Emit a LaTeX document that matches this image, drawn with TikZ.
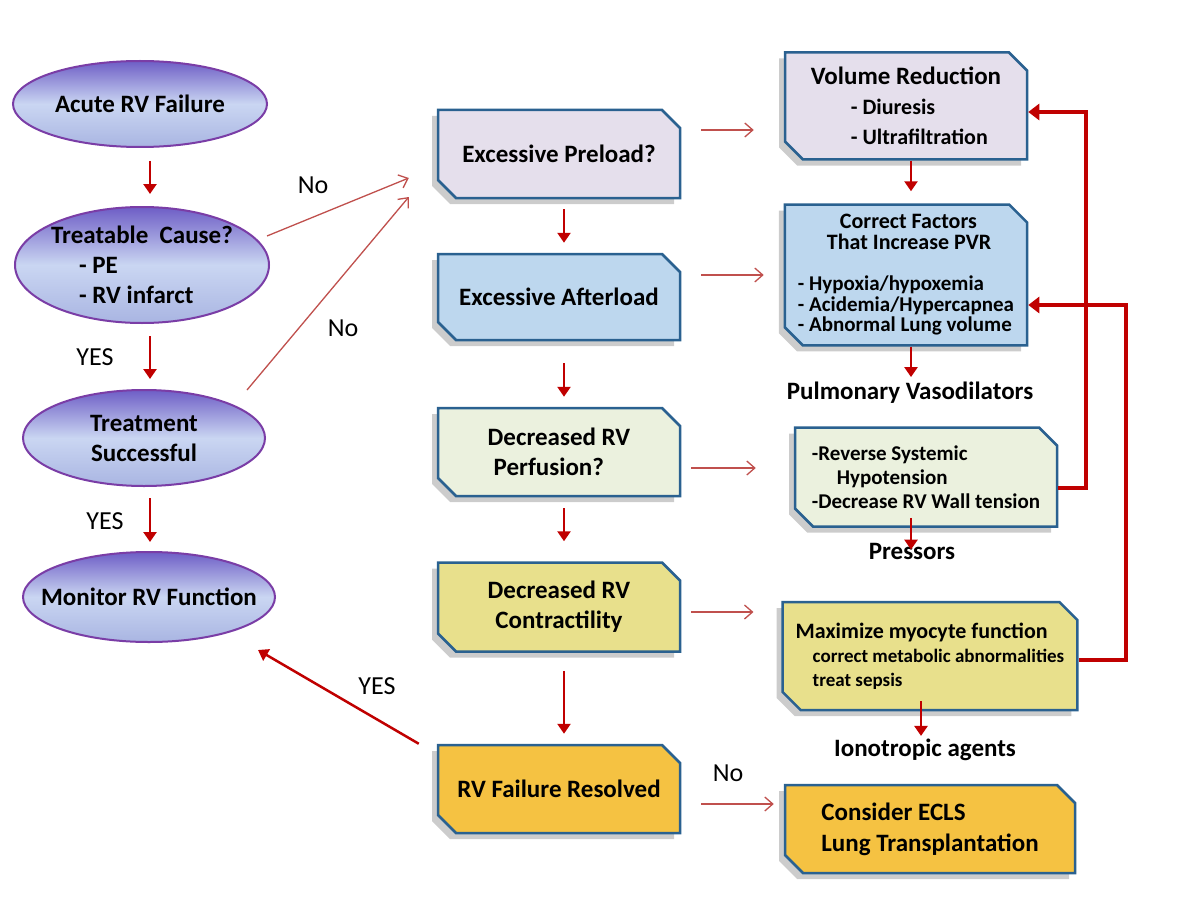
\documentclass[tikz,border=0pt]{standalone}
\usepackage{fontspec}
\setmainfont{Carlito}
\usetikzlibrary{shapes.geometric,shapes.misc,shadows,arrows.meta}
\definecolor{elborder}{HTML}{7A3DA6}
\definecolor{eltop}{HTML}{6E5EC6}
\definecolor{elmid}{HTML}{CAD6F2}
\definecolor{elbot}{HTML}{A9B5E2}
\definecolor{boxborder}{HTML}{2A6190}
\definecolor{arrred}{HTML}{C00000}
\definecolor{arrthin}{HTML}{C0504D}
\definecolor{fill1}{HTML}{E5DFEC}
\definecolor{fill2}{HTML}{BDD7EE}
\definecolor{fill3}{HTML}{EBF1DE}
\definecolor{fill4}{HTML}{E8E08C}
\definecolor{fill5}{HTML}{F5C242}
\tikzset{
    EL1/.style ={ellipse, draw=elborder, line width=2pt, top color=eltop, bottom color=elbot, middle color=elmid, align=center, inner xsep=-40pt, inner ysep=-10pt, font=\bfseries\fontsize{25}{30}\selectfont},
    RA1/.style ={chamfered rectangle, chamfered rectangle corners={north east,south west}, chamfered rectangle xsep=9pt, chamfered rectangle ysep=9pt, draw=boxborder, line width=2.5pt, fill=#1, minimum width=242pt, align=center, drop shadow={shadow xshift=-6pt, shadow yshift=-6pt, fill=black, opacity=0.2}, font=\bfseries\fontsize{25}{30}\selectfont},
    RA2/.style ={RA1=#1, align=left, inner xsep=4pt},
    TX1/.style ={inner sep=3pt, font=\bfseries\fontsize{25}{30}\selectfont},
    LB1/.style ={font=\fontsize{26}{30}\selectfont},
    AR1/.style ={draw=arrred, line width=2.5pt, -{Triangle[width=13pt,length=10pt]}},
    AR2/.style ={draw=arrthin, line width=1.3pt, -{Straight Barb[width=14pt,length=8pt]}},
    AR3/.style ={draw=arrred, line width=4pt, -{Triangle[width=16pt,length=11pt]}}
}
\begin{document}
\begin{tikzpicture}[x=1pt,y=-1pt]
        \useasboundingbox[fill=white] (0,0) rectangle (1194,915);
        \node[EL1, minimum width=254pt, minimum height=86pt] (acute) at (140,104) {Acute RV Failure};
        \node[EL1, minimum width=254pt, minimum height=116pt, align=left] (cause) at (142,265) {Treatable\ \ Cause?\\\hspace*{28pt}- PE\\\hspace*{28pt}- RV infarct};
        \node[EL1, minimum width=242pt, minimum height=96pt] (treat) at (144,438) {Treatment\\Successful};
        \node[EL1, minimum width=252pt, minimum height=90pt] (monitor) at (149,597) {Monitor RV Function};
        \node[RA1=fill1, minimum height=88pt] (preload) at (559,154) {Excessive Preload?};
        \node[RA1=fill2, minimum height=86pt] (afterload) at (559,297) {Excessive Afterload};
        \node[RA1=fill3, minimum height=88pt, align=left] (perfusion) at (559,452) {Decreased RV\\\hspace*{6pt}Perfusion?};
        \node[RA1=fill4, minimum height=89pt] (contract) at (559,607) {Decreased RV\\Contractility};
        \node[RA1=fill5, minimum height=88pt] (resolved) at (559,789) {RV Failure Resolved};
        \node[RA2=fill1, minimum height=107pt, font=\bfseries\fontsize{22}{30}\selectfont] (volred) at (906,106) {{\fontsize{25}{30}\selectfont Volume Reduction}\\\hspace*{40pt}- Diuresis\\\hspace*{40pt}- Ultrafiltration};
        \node[RA2=fill2, minimum height=136pt, inner ysep=1pt, font=\bfseries\fontsize{21}{20.5}\selectfont] (corrpvr) at (906,275) {\hspace*{42pt}{\fontsize{22}{20.5}\selectfont Correct Factors}\\\hspace*{29pt}{\fontsize{22}{20.5}\selectfont That Increase PVR}\\[21pt]- Hypoxia/hypoxemia\\- Acidemia/Hypercapnea\\- Abnormal Lung volume};
        \node[RA2=fill3, minimum width=262pt, minimum height=99pt, font=\bfseries\fontsize{21}{24}\selectfont] (revsys) at (926,477) {-Reverse Systemic\\\hspace*{25pt}Hypotension\\-Decrease RV Wall tension};
        \node[RA2=fill4, minimum width=290pt, minimum height=108pt, font=\bfseries\fontsize{19}{24}\selectfont] (maxmyo) at (930,656) {{\fontsize{22}{24}\selectfont Maximize myocyte function}\\\hspace*{17pt}correct metabolic abnormalities\\\hspace*{17pt}treat sepsis};
        \node[RA2=fill5, minimum width=290pt, minimum height=88pt, font=\bfseries\fontsize{25}{31}\selectfont] (ecls) at (930,829) {Consider ECLS\\Lung Transplantation};
        \node[TX1] (pulvaso) at (910,393) {Pulmonary Vasodilators};
        \node[TX1] (pressors) at (912,551) {Pressors};
        \node[TX1] (ionotr) at (925,750) {Ionotropic agents};
        \node[LB1] (no1) at (313,185) {No};
        \node[LB1] (no2) at (343,328) {No};
        \node[LB1] (yes1) at (95,357) {YES};
        \node[LB1] (yes2) at (105,521) {YES};
        \node[LB1] (yes3) at (377,686) {YES};
        \node[LB1] (no3) at (728,773) {No};
        \draw[AR1, shorten <=13pt, shorten >=12pt] ([xshift=10pt]acute.south) -- ([xshift=8pt]cause.north);
        \draw[AR1, shorten <=12pt, shorten >=10pt] ([xshift=8pt]cause.south) -- ([xshift=6pt]treat.north);
        \draw[AR1, shorten <=11pt, shorten >=9pt] ([xshift=6pt]treat.south) -- ([xshift=1pt]monitor.north);
        \draw[AR1, shorten <=10pt, shorten >=10pt] ([xshift=5pt]preload.south) -- ([xshift=5pt]afterload.north);
        \draw[AR1, shorten <=22pt, shorten >=10pt] ([xshift=5pt]afterload.south) -- ([xshift=5pt]perfusion.north);
        \draw[AR1, shorten <=11pt, shorten >=20pt] ([xshift=5pt]perfusion.south) -- ([xshift=5pt]contract.north);
        \draw[AR1, shorten <=18pt, shorten >=10pt] ([xshift=5pt]contract.south) -- ([xshift=5pt]resolved.north);
        \draw[AR1, shorten >=12pt] ([xshift=5pt]volred.south) -- ([xshift=5pt]corrpvr.north);
        \draw[AR1, shorten >=2pt] ([xshift=5pt]corrpvr.south) -- ([xshift=5pt]corrpvr.south |- pulvaso.north);
        \draw[AR1, shorten <=-10pt, shorten >=-10pt] ([xshift=-15pt]revsys.south) -- ([xshift=-15pt]revsys.south |- pressors.north);
        \draw[AR1, shorten <=-10pt] ([xshift=-9pt]maxmyo.south) -- ([xshift=-9pt]maxmyo.south |- ionotr.north);
        \draw[AR1] ([xshift=-18pt]resolved.north west) -- ([xshift=109pt,yshift=-53pt]monitor.center);
        \draw[AR2] ([xshift=125pt,yshift=29pt]cause.center) -- ([xshift=-28pt,yshift=-24pt]preload.west);
        \draw[AR2] ([xshift=103pt,yshift=48pt]treat.center) -- ([xshift=-28pt,yshift=-43pt]preload.west);
        \draw[AR2] ([xshift=20pt,yshift=24pt]preload.east) -- ([xshift=-30pt,yshift=-24pt]volred.west);
        \draw[AR2] ([xshift=20pt,yshift=22pt]afterload.east) -- ([xshift=-20pt]corrpvr.west);
        \draw[AR2] ([xshift=10pt,yshift=-16pt]perfusion.east) -- ([xshift=-38pt,yshift=9pt]revsys.west);
        \draw[AR2] ([xshift=10pt,yshift=-5pt]contract.east) -- ([xshift=-28pt,yshift=44pt]maxmyo.west);
        \draw[AR2] ([xshift=20pt,yshift=-15pt]resolved.east) -- ([xshift=-10pt,yshift=25pt]ecls.west);
        \draw[AR3] ([yshift=-11pt]revsys.east) -- ++(28,0) |- ([yshift=-6pt]volred.east);
        \draw[AR3] ([yshift=-4pt]maxmyo.east) -- ++(47,0) |- ([yshift=-30pt]corrpvr.east);
    \end{tikzpicture}
\end{document}
